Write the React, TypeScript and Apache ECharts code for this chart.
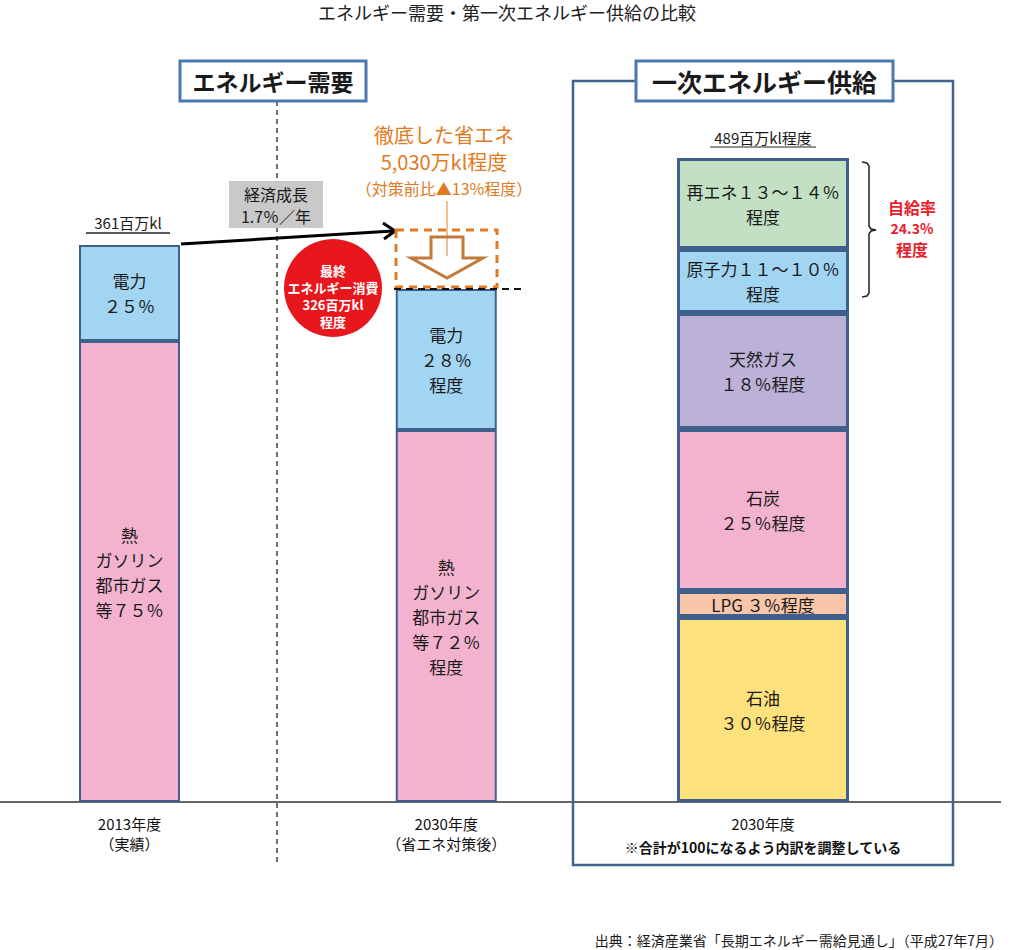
import React, { useEffect, useRef } from 'react';
import * as echarts from 'echarts';

// ---- data (heights of the drawn segments, px units) ----
const categories = [
  '2013年度\n（実績）',
  '2030年度\n（省エネ対策後）',
  '2030年度\n※合計が100になるよう内訳を調整している',
];
const demandHeat = [461, 372];
const demandElec = [96, 141];
const demandHeatLabels = ['熱\nガソリン\n都市ガス\n等７５％', '熱\nガソリン\n都市ガス\n等７２％\n程度'];
const demandElecLabels = ['電力\n２５％', '電力\n２８％\n程度'];
const supplyNames = ['石油', 'LPG', '石炭', '天然ガス', '原子力', '再エネ'];
const supplyHeights = [185, 26, 162, 116, 64, 91];
const supplyLabels = [
  '石油\n３０％程度',
  'LPG ３％程度',
  '石炭\n２５％程度',
  '天然ガス\n１８％程度',
  '原子力１１～１０％\n程度',
  '再エネ１３～１４％\n程度',
];
const totalLabels = ['361百万kl', '326百万kl', '489百万kl程度'];

// ---- styles ----
const FF = '"Noto Sans CJK JP", "Noto Sans", sans-serif';
const supplyColors = ['#fde17c', '#f8c5a9', '#f3b3cf', '#bcb2d8', '#a2d5f2', '#c4e0c4'];
const ELEC = '#a2d5f2';
const HEAT = '#f3b3cf';
const BORDER = '#3f5f8c';
const ORANGE = '#e27a22';
const RED = '#e8202a';

function T(text: string, x: number, y: number, o: any = {}) {
  const align = o.align || 'center';
  const style: any = {
    text,
    fill: o.color || '#1a1a1a',
    fontSize: o.size || 14,
    fontWeight: o.weight || 'normal',
    fontFamily: FF,
    textAlign: align,
    align,
    textVerticalAlign: 'middle',
    verticalAlign: 'middle',
  };
  if (o.lh) style.lineHeight = o.lh;
  return { type: 'text', x, y, z: 100, style };
}

function L(x1: number, y1: number, x2: number, y2: number, style: any) {
  return { type: 'line', z: 90, shape: { x1, y1, x2, y2 }, style: { fill: null, ...style } };
}

export default function App() {
  const ref = useRef<HTMLDivElement>(null);
  useEffect(() => {
    const chart = echarts.init(ref.current!, null, { renderer: 'svg' });
    const labelBase = {
      show: true,
      position: 'inside',
      color: '#1a1a1a',
      fontSize: 17,
      lineHeight: 25,
      fontFamily: FF,
    };
    const series: any[] = [
      {
        name: '熱・ガソリン・都市ガス等',
        type: 'bar',
        stack: 'demand',
        xAxisIndex: 0,
        barWidth: 101,
        clip: false,
        data: [...demandHeat, '-'],
        itemStyle: { color: HEAT, borderColor: BORDER, borderWidth: 2 },
        label: { ...labelBase, formatter: (p: any) => demandHeatLabels[p.dataIndex] || '' },
      },
      {
        name: '電力',
        type: 'bar',
        stack: 'demand',
        xAxisIndex: 0,
        barWidth: 101,
        clip: false,
        data: [...demandElec, '-'],
        itemStyle: { color: ELEC, borderColor: BORDER, borderWidth: 2 },
        label: { ...labelBase, formatter: (p: any) => demandElecLabels[p.dataIndex] || '' },
      },
      ...supplyNames.map((n, i) => ({
        name: n,
        type: 'bar',
        stack: 'supply',
        xAxisIndex: 1,
        barWidth: 172,
        clip: false,
        data: ['-', '-', supplyHeights[i]],
        itemStyle: { color: supplyColors[i], borderColor: BORDER, borderWidth: 3 },
        label: { ...labelBase, formatter: () => supplyLabels[i] },
      })),
    ];

    const graphic: any[] = [
      // baseline
      { ...L(0, 802, 1001, 802, { stroke: '#333', lineWidth: 1.5 }), z: 0 },
      // dashed divider
      L(277, 101, 277, 862, { stroke: '#111', lineWidth: 1.2, lineDash: [5, 4] }),
      // supply frame
      {
        type: 'polyline',
        z: 90,
        shape: { points: [[636, 81], [573, 81], [573, 865], [953, 865], [953, 81], [893, 81]] },
        style: { stroke: '#3f6391', lineWidth: 2.5, fill: null },
      },
      // header boxes
      { type: 'rect', z: 95, shape: { x: 180, y: 61, width: 186, height: 40 }, style: { fill: '#fff', stroke: '#4a78b0', lineWidth: 3 } },
      T('エネルギー需要', 273, 81, { size: 23, weight: 'bold' }),
      { type: 'rect', z: 95, shape: { x: 636, y: 61, width: 257, height: 40 }, style: { fill: '#fff', stroke: '#4a78b0', lineWidth: 3 } },
      T('一次エネルギー供給', 764.5, 81, { size: 25, weight: 'bold' }),
      // totals
      T(totalLabels[0], 128, 222, { size: 15 }),
      L(86, 233, 170, 233, { stroke: '#222', lineWidth: 1.5 }),
      T(totalLabels[2], 763, 137, { size: 15 }),
      L(710, 147, 816, 147, { stroke: '#222', lineWidth: 1 }),
      // growth arrow
      L(181, 244, 393, 231, { stroke: '#000', lineWidth: 3 }),
      {
        type: 'polyline',
        z: 90,
        shape: { points: [[383, 223], [395, 231], [384, 239]] },
        style: { stroke: '#000', lineWidth: 3, fill: null },
      },
      // gray box
      { type: 'rect', z: 95, shape: { x: 229, y: 181, width: 94, height: 47 }, style: { fill: '#c9c9c9' } },
      T('経済成長', 276, 194, { size: 16 }),
      T('1.7％／年', 276, 216, { size: 16 }),
      // orange saving annotation
      T('徹底した省エネ', 444, 134, { size: 20, color: ORANGE }),
      T('5,030万kl程度', 444, 161, { size: 20, color: ORANGE }),
      T('（対策前比▲13%程度）', 444, 188, { size: 16, color: ORANGE }),
      L(447, 201, 447, 256, { stroke: '#f2a86a', lineWidth: 1.5 }),
      {
        type: 'rect',
        z: 90,
        shape: { x: 396, y: 230, width: 101, height: 57 },
        style: { fill: null, stroke: ORANGE, lineWidth: 3, lineDash: [8, 6] },
      },
      {
        type: 'polygon',
        z: 91,
        shape: { points: [[431, 237], [463, 237], [463, 258], [483, 258], [447, 278], [411, 258], [431, 258]] },
        style: { fill: null, stroke: '#c27a3a', lineWidth: 3 },
      },
      L(394, 289, 522, 289, { stroke: '#111', lineWidth: 2, lineDash: [7, 5] }),
      // red circle
      { type: 'circle', z: 95, shape: { cx: 333, cy: 288, r: 49 }, style: { fill: '#e8171d' } },
      T('最終\nエネルギー消費\n' + totalLabels[1] + '\n程度', 333, 296, { size: 13, lh: 17, weight: 'bold', color: '#fff' }),
      // brace
      {
        type: 'polyline',
        z: 90,
        shape: {
          points: [[862, 162], [867, 163], [869, 166], [869, 226], [871, 229], [876, 230], [871, 231], [869, 234], [869, 293], [867, 296], [862, 297]],
        },
        style: { stroke: '#222', lineWidth: 1.5, fill: null },
      },
      T('自給率', 912, 207, { size: 16, weight: 'bold', color: RED }),
      T('24.3%', 912, 228, { size: 14, weight: 'bold', color: RED }),
      T('程度', 912, 249, { size: 16, weight: 'bold', color: RED }),
      // source
      T('出典：経済産業省「長期エネルギー需給見通し」（平成27年7月）', 1003, 940, { size: 14, align: 'right' }),
    ];

    chart.setOption({
      animation: false,
      backgroundColor: '#fff',
      title: {
        text: 'エネルギー需要・第一次エネルギー供給の比較',
        left: 'center',
        top: 0,
        padding: [3, 5],
        textStyle: { fontSize: 18, fontWeight: 'normal', color: '#222', fontFamily: FF },
      },
      grid: { left: 129.5, right: 251, top: 102, bottom: 148, containLabel: false },
      xAxis: [
        {
          type: 'category',
          data: categories,
          boundaryGap: false,
          axisLine: { show: false },
          axisTick: { show: false },
          splitLine: { show: false },
          axisLabel: {
            interval: 0,
            margin: 11,
            hideOverlap: false,
            showMinLabel: true,
            showMaxLabel: true,
            fontFamily: FF,
            color: '#111',
            formatter: (v: string, i: number) => {
              const parts = v.split('\n');
              if (i === 2) return `{a|${parts[0]}}\n{n|${parts[1]}}`;
              return `{a|${parts[0]}}\n{a|${parts[1]}}`;
            },
            rich: {
              a: { fontSize: 15, lineHeight: 20, fontFamily: FF, color: '#111', align: 'center' },
              n: { fontSize: 14, lineHeight: 28, fontWeight: 'bold', fontFamily: FF, color: '#111', align: 'center' },
            },
          },
        },
        {
          type: 'category',
          data: categories,
          boundaryGap: false,
          position: 'top',
          show: false,
        },
      ],
      yAxis: { type: 'value', min: 0, max: 700, show: false, splitLine: { show: false } },
      series,
      graphic,
    });
    return () => chart.dispose();
  }, []);
  return (
    <div
      ref={ref}
      style={{ position: 'absolute', left: 0, top: 0, width: 1014, height: 950, background: '#fff' }}
    />
  );
}
